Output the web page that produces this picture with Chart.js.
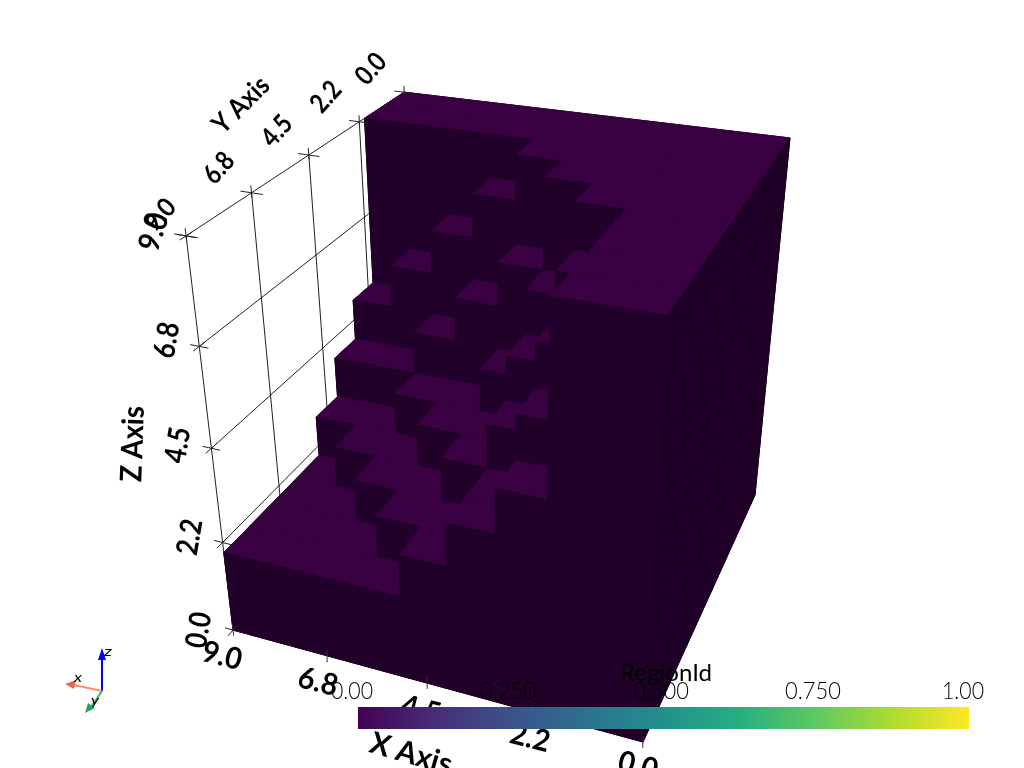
<!DOCTYPE html>
<html>
<head>
<meta charset="utf-8">
<title>RegionId</title>
<style>
	html, body { margin: 0; padding: 0; background: #fff; }
	canvas { display: block; }
</style>
<script src="https://cdn.jsdelivr.net/npm/chart.js@4"></script>
</head>
<body>
<canvas id="chart" width="1024" height="768"></canvas>
<script>

var heights = [
	[9, 9, 9, 9, 9, 9, 9, 9, 9],
	[9, 9, 9, 9, 9, 9, 9, 9, 9],
	[9, 9, 9, 9, 9, 8, 7, 6, 5],
	[9, 9, 9, 9, 7, 6, 5, 4, 4],
	[9, 9, 9, 7, 5, 4, 4, 3, 3],
	[9, 9, 8, 6, 4, 4, 3, 3, 2],
	[9, 9, 7, 5, 4, 3, 3, 2, 2],
	[9, 9, 6, 4, 3, 3, 2, 2, 2],
	[9, 9, 5, 4, 3, 2, 2, 2, 2]
];

var xTicks = [9, 6.75, 4.5, 2.25, 0];
var yTicks = [9, 6.75, 4.5, 2.25, 0];
var zTicks = [0, 2.25, 4.5, 6.75, 9];
var xTickLabels = ["9.0", "6.8", "4.5", "2.2", "0.0"];
var yTickLabels = ["9.0", "6.8", "4.5", "2.2", "0.0"];
var zTickLabels = ["0.0", "2.2", "4.5", "6.8", "9.0"];

var colorbarTicks = ["0.00", "0.250", "0.500", "0.750", "1.00"];
var colorbarColors = ["#440154", "#472d7b", "#3b528b", "#2c728e", "#21918c", "#28ae80", "#5ec962", "#addc30", "#fde725"];

var TOP_COLOR = "#390042";
var FRONT_COLOR = "#210029";
var SIDE_COLOR = "#1e0027";
var GRID_COLOR = "rgba(0,0,0,0.88)";

// camera fitted to the corners of the box, homogeneous image coords
var camOrigin = [755, 495, 1];
var camX = [-301.2, -31.8, 0.0891];
var camY = [-250, 87.8, -0.2146];
var camZ = [-64.5, -374.4, -0.1259];

var project = function (x, y, z) {
	var p = [0, 0, 0];
	for (var i = 0; i < 3; i++) {
		p[i] = camOrigin[i] + camX[i] * x / 9 + camY[i] * y / 9 + camZ[i] * z / 9;
	}
	return { x: p[0] / p[2], y: p[1] / p[2] };
};

var datasets = [];

var addLine = function (points, color, width) {
	datasets.push({
		data: points,
		showLine: true,
		fill: false,
		borderColor: color,
		borderWidth: width,
		pointRadius: 0,
		tension: 0
	});
};

var addFace = function (points, color, border) {
	datasets.push({
		data: points.concat([points[0]]),
		showLine: true,
		fill: "shape",
		backgroundColor: color,
		borderColor: color,
		borderWidth: border,
		pointRadius: 0,
		tension: 0
	});
};

// painted twice so the seams between cells close up
var addSolidFace = function (points, color) {
	addFace(points, color, 1);
	addFace(points, color, 1);
};

var line3d = function (a, b, color, width) {
	addLine([project(a[0], a[1], a[2]), project(b[0], b[1], b[2])], color, width);
};

// grid on the far wall, behind the solid
yTicks.forEach(function (y) {
	line3d([9, y, 0], [9, y, 9], GRID_COLOR, 1);
});
zTicks.forEach(function (z) {
	line3d([9, 0, z], [9, 9, z], GRID_COLOR, 1);
});
line3d([0, 0, 9], [9, 0, 9], "#999", 1);

// back to front, far x first
for (var j = 0; j < 9; j++) {
	for (var i = 8; i >= 0; i--) {
		var h = heights[j][i];
		addSolidFace([project(i, j, h), project(i + 1, j, h), project(i + 1, j + 1, h), project(i, j + 1, h)], TOP_COLOR);
		var front = j < 8 ? heights[j + 1][i] : 0;
		if (front < h) {
			addSolidFace([project(i, j + 1, front), project(i + 1, j + 1, front), project(i + 1, j + 1, h), project(i, j + 1, h)], FRONT_COLOR);
		}
		var side = i > 0 ? heights[j][i - 1] : 0;
		if (side < h) {
			addSolidFace([project(i, j, side), project(i, j + 1, side), project(i, j + 1, h), project(i, j, h)], SIDE_COLOR);
		}
	}
}

// tick crosses
yTicks.forEach(function (y) {
	line3d([8.75, y, 9], [9.25, y, 9], "#222", 1);
	line3d([9, y, 8.9], [9, y, 9.15], "#222", 1);
});
zTicks.forEach(function (z) {
	line3d([8.8, 9, z], [9.2, 9, z], "#222", 1);
	line3d([9, 8.8, z], [9, 9.2, z], "#222", 1);
});
xTicks.forEach(function (x) {
	line3d([x, 9, -0.15], [x, 9, 0.15], "#333", 1);
});

// orientation widget
addLine([{ x: 102, y: 691 }, { x: 102, y: 655 }], "#0000ff", 2);
addFace([{ x: 98, y: 660 }, { x: 102, y: 648 }, { x: 106, y: 660 }], "#0000ff", 0);
addLine([{ x: 102, y: 691 }, { x: 74, y: 685 }], "#ff8c69", 2);
addFace([{ x: 76, y: 680 }, { x: 65, y: 684 }, { x: 74, y: 689 }], "#e8694a", 0);
addLine([{ x: 102, y: 691 }, { x: 91, y: 707 }], "#3cb371", 2);
addFace([{ x: 88, y: 703 }, { x: 95, y: 708 }, { x: 85, y: 713 }], "#2e9e60", 0);

// colorbar
var colorbarFace = datasets.length;
addFace([{ x: 358, y: 707 }, { x: 969, y: 707 }, { x: 969, y: 729 }, { x: 358, y: 729 }], "#440154", 0);

datasets.forEach(function (d, idx) {
	d.order = datasets.length - idx;
});

// text, x y are the centre: text, x, y, angle, size, width, weight, style
var axisTexts = [
	[zTickLabels[0], 199, 630, -80, 30, 36, 700],
	[zTickLabels[1], 190, 537, -80, 30, 36, 700],
	[zTickLabels[2], 178, 445, -80, 30, 36, 700],
	[zTickLabels[3], 167, 340, -80, 30, 36, 700],
	[zTickLabels[4], 154, 232, -72, 30, 38, 700],
	[yTickLabels[0], 160, 215, -48, 26, 34, 700],
	[yTickLabels[1], 219, 168, -48, 27, 32, 700],
	[yTickLabels[2], 277, 131, -48, 27, 32, 700],
	[yTickLabels[3], 326, 97, -48, 27, 32, 700],
	[yTickLabels[4], 371, 69, -48, 27, 32, 700],
	[xTickLabels[0], 222, 656, 14, 30, 40, 700],
	[xTickLabels[1], 318, 682, 14, 30, 40, 700],
	[xTickLabels[2], 421, 710, 14, 30, 40, 700],
	[xTickLabels[3], 530, 738, 14, 30, 40, 700],
	[xTickLabels[4], 638, 766, 14, 30, 40, 700],
	["X Axis", 411, 754, 16, 30, 84, 700],
	["Y Axis", 241, 105, -45, 27, 68, 700],
	["Z Axis", 133, 444, -88, 30, 76, 700]
];
var overlayTexts = [
	["RegionId", 666, 674, 0, 23, 92, 400],
	[colorbarTicks[0], 352, 692, 0, 23, 42, 300],
	[colorbarTicks[1], 508, 692, 0, 23, 56, 300],
	[colorbarTicks[2], 661, 692, 0, 23, 56, 300],
	[colorbarTicks[3], 813, 692, 0, 23, 56, 300],
	[colorbarTicks[4], 963, 692, 0, 23, 42, 300],
	["x", 78, 677, 0, 14, 8, 400, "italic"],
	["y", 95, 700, 0, 14, 8, 400, "italic"],
	["z", 108, 651, 0, 14, 8, 400, "italic"]
];

var drawTexts = function (ctx, list) {
	list.forEach(function (t) {
		ctx.save();
		ctx.font = (t[7] ? t[7] + " " : "") + t[6] + " " + t[4] + "px Lato";
		ctx.textAlign = "center";
		ctx.textBaseline = "middle";
		ctx.fillStyle = "#000";
		ctx.translate(t[1], t[2]);
		ctx.rotate(t[3] * Math.PI / 180);
		ctx.scale(t[5] / ctx.measureText(t[0]).width, 1);
		ctx.fillText(t[0], 0, 0);
		ctx.restore();
	});
};

var textPlugin = {
	id: "sceneText",
	beforeDatasetsDraw: function (chart) {
		var ctx = chart.ctx;
		var grad = ctx.createLinearGradient(chart.scales.x.getPixelForValue(358), 0, chart.scales.x.getPixelForValue(969), 0);
		colorbarColors.forEach(function (c, n) {
			grad.addColorStop(n / (colorbarColors.length - 1), c);
		});
		var bar = chart.getDatasetMeta(colorbarFace).dataset;
		bar.options.backgroundColor = grad;
		drawTexts(ctx, axisTexts);
	},
	afterDatasetsDraw: function (chart) {
		drawTexts(chart.ctx, overlayTexts);
	}
};

new Chart(document.getElementById("chart"), {
	type: "scatter",
	data: { datasets: datasets },
	plugins: [textPlugin],
	options: {
		responsive: false,
		animation: false,
		devicePixelRatio: 1,
		layout: { padding: 0 },
		plugins: { legend: { display: false }, tooltip: { enabled: false } },
		scales: {
			x: { type: "linear", min: 0, max: 1024, display: false },
			y: { type: "linear", min: 0, max: 768, reverse: true, display: false }
		}
	}
});
</script>
</body>
</html>
